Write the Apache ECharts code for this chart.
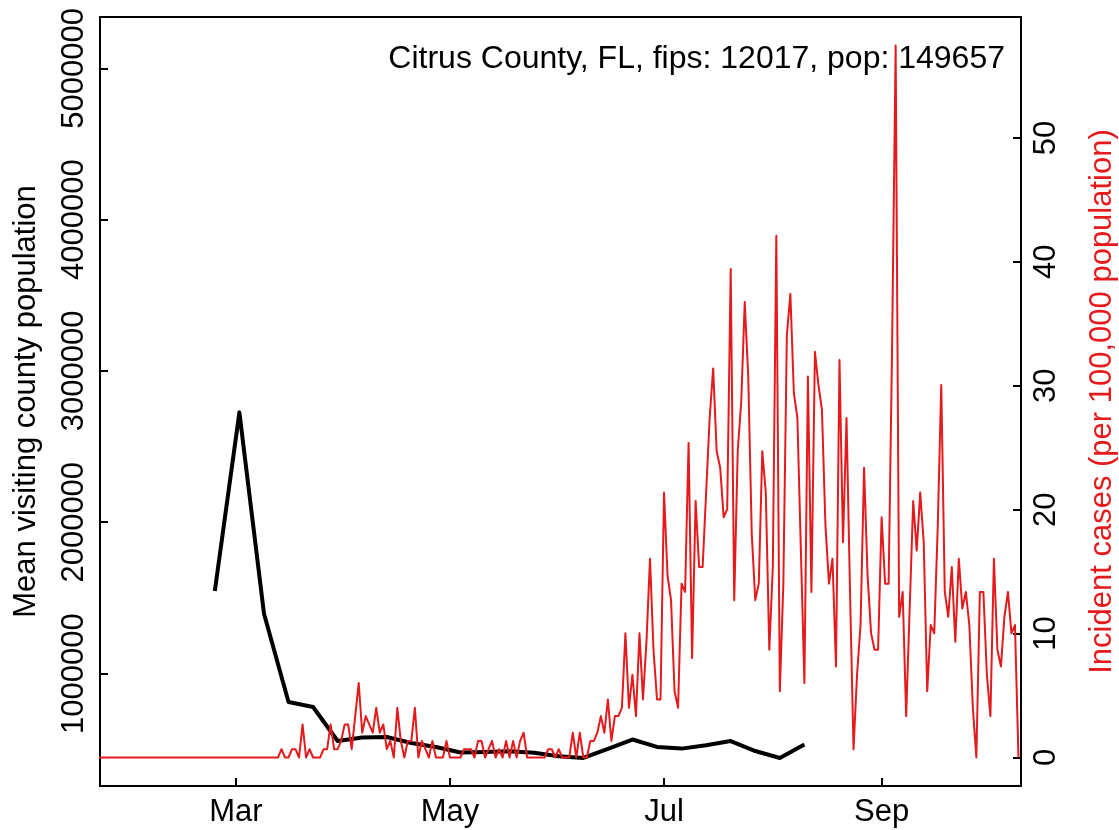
<!DOCTYPE html>
<html><head><meta charset="utf-8">
<script src="https://cdn.jsdelivr.net/npm/echarts@6/dist/echarts.min.js"></script>
<style>html,body{margin:0;padding:0;background:#fff}#c{width:1119px;height:830px}</style>
</head><body><div id="c"></div>
<script>
// ---- data ----
const titleText = 'Citrus County, FL, fips: 12017, pop: 149657';
const leftAxisName = 'Mean visiting county population';
const rightAxisName = 'Incident cases (per 100,000 population)';
const xTickDates = ['2020-03-01', '2020-05-01', '2020-07-01', '2020-09-01'];
const xTickLabels = ['Mar', 'May', 'Jul', 'Sep'];
const leftTicks = [1000000, 2000000, 3000000, 4000000, 5000000];
const rightTicks = [0, 10, 20, 30, 40, 50];

// daily incident cases per 100,000, starting 2020-01-22
const casesStart = '2020-01-22';
const casesPer100k = [
  0,0,0,0,0,0,0,0,0,0,
  0,0,0,0,0,0,0,0,0,0,
  0,0,0,0,0,0,0,0,0,0,
  0,0,0,0,0,0,0,0,0,0,
  0,0,0,0,0,0,0,0,0,0,
  0,0,
  0.67,0,0,0.67,0.67,0,2.67,0,0.67,0,
  0,0,0.67,0.67,2.67,0.67,0.67,1.34,2.67,2.67,
  0.67,3.34,6.01,2.00,3.34,2.67,2.00,4.01,2.00,2.67,
  0.67,1.34,0,4.01,1.34,0,1.34,1.34,4.01,0,
  1.34,0.67,0,1.34,0,0,0,1.34,0,0,
  0,0,0.67,0.67,0.67,0,1.34,1.34,0,0.67,
  1.34,0,0.67,0,1.34,0,1.34,0,1.34,2.00,
  0,0,0,0,0,0,0.67,0.67,0,0.67,
  0,0,0,2.00,0,2.00,0,0,1.34,1.34,
  2.00,3.34,2.00,4.68,1.34,3.34,3.34,4.01,10.02,4.01,
  6.68,3.34,10.02,4.68,9.35,16.04,8.69,4.68,4.68,21.38,
  14.70,12.70,5.35,4.01,14.03,13.36,25.39,8.02,20.71,15.37,
  15.37,21.38,27.40,31.40,24.72,23.39,19.38,20.05,39.42,12.70,
  24.72,28.73,36.75,30.74,18.04,12.70,14.03,24.72,21.38,8.69,
  15.37,42.10,5.35,14.03,34.08,37.42,29.40,27.40,16.70,6.01,
  30.74,13.36,32.74,30.07,28.06,18.71,14.03,16.04,7.35,32.07,
  17.37,27.40,13.36,0.67,6.68,10.69,23.39,14.70,10.02,8.69,
  8.69,19.38,14.03,14.03,33.41,57.46,11.36,13.36,3.34,12.03,
  20.71,16.70,21.38,17.37,5.35,10.69,10.02,18.71,30.07,13.36,
  11.36,15.37,9.35,16.04,12.03,13.36,10.69,4.01,0,13.36,
  13.36,6.68,3.34,16.04,8.69,7.35,11.36,13.36,10.02,10.69,0
];

// weekly mean visiting county population, starting 2020-02-24
const visitStart = '2020-02-24';
const visitMean = [
  1546000, 2726000, 1397000, 812000, 779000, 554000, 577000, 581000,
  541000, 515000, 478000, 482000, 486000, 476000, 453000, 442000,
  503000, 564000, 515000, 504000, 526000, 554000, 488000, 442000, 531000
];

// ---- chart ----
const FONT = 'Liberation Sans';
const RED = '#E41A1C';
function dayNum(s) {
  return (Date.parse(s + 'T00:00:00Z') - Date.parse('2020-01-01T00:00:00Z')) / 864e5;
}
const xTickVals = xTickDates.map(dayNum);
const redData = casesPer100k.map((v, i) => [dayNum(casesStart) + i, v]);
const blackData = visitMean.map((v, i) => [dayNum(visitStart) + 7 * i, v]);

const chart = echarts.init(document.getElementById('c'), null, { renderer: 'canvas' });
chart.setOption({
  animation: false,
  backgroundColor: '#fff',
  title: {
    text: titleText, right: 114, top: 43, padding: 0,
    textStyle: { fontFamily: FONT, fontSize: 32, fontWeight: 'normal', color: '#000' }
  },
  grid: {
    left: 100, top: 17, right: 98, bottom: 44,
    outerBoundsMode: 'none', containLabel: false,
    show: true, borderColor: '#000', borderWidth: 2, backgroundColor: 'transparent'
  },
  xAxis: {
    type: 'value', min: 21.28, max: 283.72,
    splitLine: { show: false },
    axisLine: { show: false, onZero: false },
    axisTick: { show: true, inside: true, length: 8, customValues: xTickVals, lineStyle: { color: '#000', width: 2 } },
    axisLabel: {
      customValues: xTickVals, margin: 11,
      fontFamily: FONT, fontSize: 31, color: '#000',
      formatter: v => { const i = xTickVals.indexOf(v); return i >= 0 ? xTickLabels[i] : ''; }
    }
  },
  yAxis: [
    {
      type: 'value', position: 'left', min: 256900, max: 5339000,
      splitLine: { show: false }, axisLine: { show: false, onZero: false },
      axisTick: { show: true, inside: true, length: 8, customValues: leftTicks, lineStyle: { color: '#000', width: 2 } },
      axisLabel: {
        customValues: leftTicks, rotate: 90, margin: 10,
        fontFamily: FONT, fontSize: 31, color: '#000',
        formatter: v => String(v)
      },
      name: leftAxisName, nameLocation: 'middle', nameRotate: 90, nameGap: 58,
      nameTextStyle: { fontFamily: FONT, fontSize: 31, color: '#000' }
    },
    {
      type: 'value', position: 'right', min: -2.30, max: 59.76,
      splitLine: { show: false }, axisLine: { show: false, onZero: false },
      axisTick: { show: true, inside: true, length: 8, customValues: rightTicks, lineStyle: { color: '#000', width: 2 } },
      axisLabel: {
        customValues: rightTicks, rotate: 90, margin: 10,
        fontFamily: FONT, fontSize: 31, color: '#000',
        formatter: v => String(v)
      },
      name: rightAxisName, nameLocation: 'middle', nameRotate: 90, nameGap: 66,
      nameTextStyle: { fontFamily: FONT, fontSize: 31, color: RED }
    }
  ],
  series: [
    {
      type: 'line', yAxisIndex: 0, data: blackData, showSymbol: false, symbol: 'none',
      lineStyle: { color: '#000', width: 4, cap: 'butt', join: 'round' }, clip: true
    },
    {
      type: 'line', yAxisIndex: 1, data: redData, showSymbol: false, symbol: 'none',
      lineStyle: { color: RED, width: 2, join: 'round' }, clip: true
    }
  ]
});
</script>
</body></html>
